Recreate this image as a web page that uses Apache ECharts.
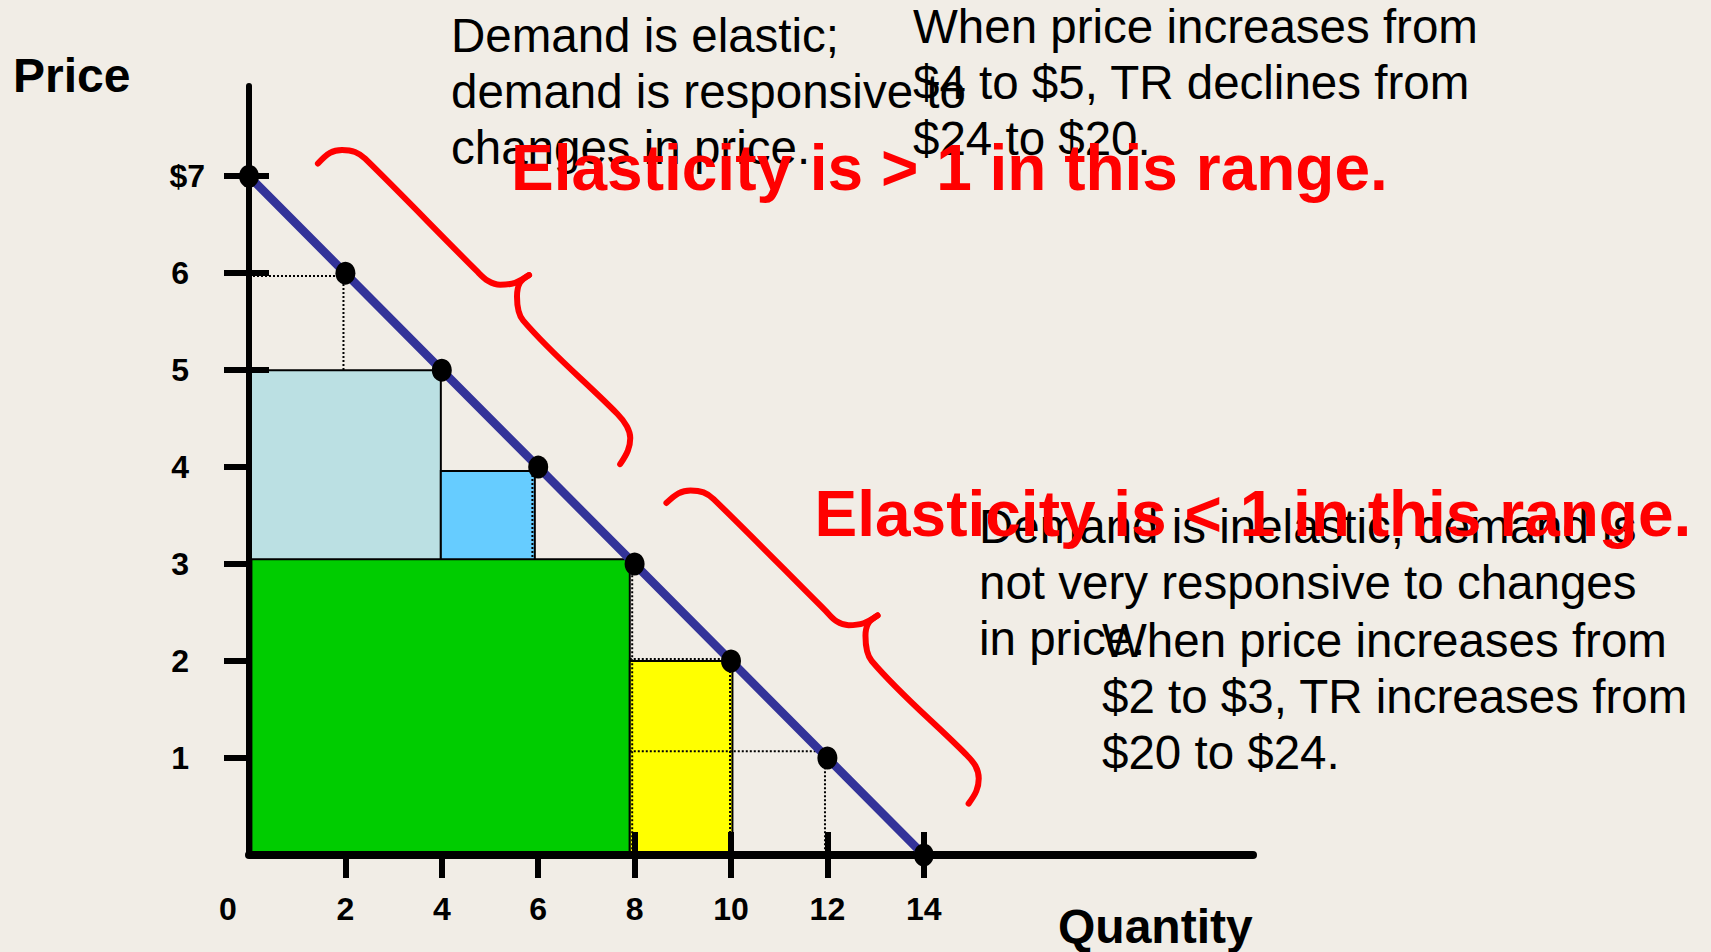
<!DOCTYPE html>
<html>
<head>
<meta charset="utf-8">
<script src="https://cdn.jsdelivr.net/npm/echarts@6/dist/echarts.min.js"></script>
<style>
  html, body { margin: 0; padding: 0; background: #F1EDE6; }
  #chart { width: 1711px; height: 952px; }
</style>
</head>
<body>
<div id="chart"></div>
<script>
// ---------- data ----------
const qtyPoints   = [0, 2, 4, 6, 8, 10, 12, 14];
const pricePoints = [7, 6, 5, 4, 3, 2, 1, 0];

const qtyTicks       = [0, 2, 4, 6, 8, 10, 12, 14];
const qtyTickLabels  = ['0', '2', '4', '6', '8', '10', '12', '14'];
const qtyTickMarks   = [2, 4, 6, 8, 10, 12, 14];
const qtyTickCross   = [8, 10, 12, 14];
const priceTicks      = [1, 2, 3, 4, 5, 6, 7];
const priceTickLabels = ['1', '2', '3', '4', '5', '6', '$7'];
const priceTickCross  = [5, 6, 7];

// revenue rectangles: [q0, q1, p0, p1]
const rectLightBlue = [0, 3.98, 0, 5.0];
const rectMidBlue   = [3.98, 5.93, 3.0, 3.96];
const rectGreen     = [0.05, 7.9, 0, 3.05];
const rectYellow    = [7.9, 10.03, 0, 2.0];

// dotted guide segments: [q0, p0, q1, p1]
const guideSegments = [
  [0, 5.97, 1.96, 5.97],
  [1.96, 5.97, 1.96, 5.0],
  [3.98, 3.96, 5.93, 3.96],
  [5.88, 3.96, 5.88, 3.05],
  [7.95, 3.05, 7.95, 0],
  [7.9, 2.02, 10.0, 2.02],
  [9.98, 2.02, 9.98, 0],
  [7.9, 1.07, 11.95, 1.07],
  [11.95, 1.07, 11.95, 0]
];

// curly braces (upper and lower halves) in axis units
const brace1Upper = [[1.43,7.13],[1.68,7.24],[1.93,7.27],[2.20,7.25],[2.41,7.18],[4.73,6.02],[4.96,5.92],[5.21,5.88],[5.52,5.90],[5.81,5.98]];
const brace1Lower = [[5.81,5.98],[5.62,5.90],[5.56,5.76],[5.69,5.51],[7.64,4.55],[7.84,4.42],[7.91,4.30],[7.86,4.17],[7.70,4.03]];
const brace2Upper = [[8.66,3.63],[8.91,3.73],[9.16,3.76],[9.43,3.74],[9.64,3.67],[11.96,2.52],[12.19,2.41],[12.44,2.37],[12.75,2.39],[13.04,2.47]];
const brace2Lower = [[13.04,2.47],[12.85,2.39],[12.79,2.26],[12.92,2.00],[14.87,1.04],[15.07,0.92],[15.14,0.79],[15.09,0.66],[14.93,0.53]];

// texts
const yTitle = 'Price';
const xTitle = 'Quantity';
const noteElastic = 'Demand is elastic;\ndemand is responsive to\nchanges in price.';
const noteElasticTR = 'When price increases from\n$4 to $5, TR declines from\n$24 to $20.';
const noteInelastic = 'Demand is inelastic; demand is\nnot very responsive to changes\nin price.';
const noteInelasticTR = 'When price increases from\n$2 to $3, TR increases from\n$20 to $24.';
const redTop = 'Elasticity is > 1 in this range.';
const redBottom = 'Elasticity is < 1 in this range.';

// ---------- styling ----------
const X_MAX = 20.83;
const Y_MAX = 7.93;
const FONT = '"Liberation Sans", Arial, Helvetica, sans-serif';
const rectColors = ['#BBE0E3', '#66CCFF', '#00CC00', '#FFFF00'];
const rects = [rectLightBlue, rectMidBlue, rectGreen, rectYellow];

const chart = echarts.init(document.getElementById('chart'), null, { renderer: 'svg' });

function braceSeries(data) {
  return {
    type: 'line', data: data, smooth: 0.35, symbol: 'none', silent: true, z: 6,
    lineStyle: { color: '#FF0000', width: 6, cap: 'round', join: 'round' }
  };
}

const tickLabelBase = { fontFamily: FONT, fontWeight: 'bold', fontSize: 32, color: '#000', lineHeight: 32 };

function note(x, y, text) {
  return { type: 'text', x: x, y: y, z: 10, style: { text: text, font: '47.5px ' + FONT, fill: '#000', lineHeight: 56, align: 'left', verticalAlign: 'top' } };
}
function redNote(x, y, text) {
  return { type: 'text', x: x, y: y, z: 20, style: { text: text, font: 'bold 64px ' + FONT, fill: '#FF0000', lineHeight: 64, align: 'left', verticalAlign: 'top' } };
}
function title(x, y, text) {
  return { type: 'text', x: x, y: y, z: 10, style: { text: text, font: 'bold 48px ' + FONT, fill: '#000', lineHeight: 48, align: 'left', verticalAlign: 'top' } };
}

const option = {
  backgroundColor: '#F1EDE6',
  animation: false,
  grid: { left: 249, top: 86, right: 1711 - 1253, bottom: 952 - 855, containLabel: false },
  xAxis: [
    {
      type: 'value', min: 0, max: X_MAX, interval: 2, z: 3,
      axisLine: { show: true, onZero: false, lineStyle: { color: '#000', width: 8 } },
      axisTick: { show: true, customValues: qtyTickMarks, length: 23, lineStyle: { color: '#000', width: 6 } },
      axisLabel: {
        customValues: qtyTicks, margin: 38,
        ...tickLabelBase,
        formatter: function (v) {
          const s = qtyTickLabels[qtyTicks.indexOf(v)];
          return v === 0 ? '{z|' + s + '}' : '{n|' + s + '}';
        },
        rich: {
          z: { ...tickLabelBase, padding: [0, 42, 0, 0] },
          n: { ...tickLabelBase }
        }
      },
      splitLine: { show: false }
    },
    {
      type: 'value', min: 0, max: X_MAX, interval: 2, position: 'bottom', z: 3,
      axisLine: { show: false },
      axisTick: { show: true, inside: true, customValues: qtyTickCross, length: 23, lineStyle: { color: '#000', width: 6 } },
      axisLabel: { show: false },
      splitLine: { show: false }
    }
  ],
  yAxis: [
    {
      type: 'value', min: 0, max: Y_MAX, interval: 1, z: 3,
      axisLine: { show: true, onZero: false, lineStyle: { color: '#000', width: 6 } },
      axisTick: { show: true, customValues: priceTicks, length: 25, lineStyle: { color: '#000', width: 6 } },
      axisLabel: {
        customValues: priceTicks, margin: 44,
        ...tickLabelBase,
        formatter: function (v) {
          const s = priceTickLabels[priceTicks.indexOf(v)];
          return v === 7 ? '{d|' + s + '}' : '{n|' + s + '}';
        },
        rich: {
          d: { ...tickLabelBase },
          n: { ...tickLabelBase, padding: [0, 16, 0, 0] }
        }
      },
      splitLine: { show: false }
    },
    {
      type: 'value', min: 0, max: Y_MAX, interval: 1, position: 'left', z: 3,
      axisLine: { show: false },
      axisTick: { show: true, inside: true, customValues: priceTickCross, length: 20, lineStyle: { color: '#000', width: 6 } },
      axisLabel: { show: false },
      splitLine: { show: false }
    }
  ],
  series: [
    {
      type: 'custom', silent: true, z: 1,
      data: rects,
      encode: { x: [0, 1], y: [2, 3] },
      renderItem: function (params, api) {
        const p0 = api.coord([api.value(0), api.value(3)]);
        const p1 = api.coord([api.value(1), api.value(2)]);
        return {
          type: 'rect',
          shape: { x: p0[0], y: p0[1], width: p1[0] - p0[0], height: p1[1] - p0[1] },
          style: { fill: rectColors[params.dataIndex], stroke: '#000', lineWidth: 2 }
        };
      }
    },
    {
      type: 'custom', silent: true, z: 4,
      data: guideSegments,
      encode: { x: [0, 2], y: [1, 3] },
      renderItem: function (params, api) {
        const a = api.coord([api.value(0), api.value(1)]);
        const b = api.coord([api.value(2), api.value(3)]);
        return {
          type: 'line',
          shape: { x1: a[0], y1: a[1], x2: b[0], y2: b[1] },
          style: { stroke: '#000', lineWidth: 2, lineDash: [2, 2] }
        };
      }
    },
    {
      type: 'line', silent: true, z: 5,
      data: qtyPoints.map((q, i) => [q, pricePoints[i]]),
      symbol: 'circle', symbolSize: [20, 23], showSymbol: true,
      lineStyle: { color: '#333399', width: 8.5 },
      itemStyle: { color: '#000' }
    },
    braceSeries(brace1Upper),
    braceSeries(brace1Lower),
    braceSeries(brace2Upper),
    braceSeries(brace2Lower)
  ],
  graphic: {
    elements: [
      title(13, 51, yTitle),
      title(1058, 902, xTitle),
      note(451, 7.2, noteElastic),
      note(913, -1.8, noteElasticTR),
      note(979, 498.8, noteInelastic),
      note(1102, 612.2, noteInelasticTR),
      redNote(511, 135.8, redTop),
      redNote(814.5, 481.8, redBottom)
    ]
  }
};

chart.setOption(option);
</script>
</body>
</html>
